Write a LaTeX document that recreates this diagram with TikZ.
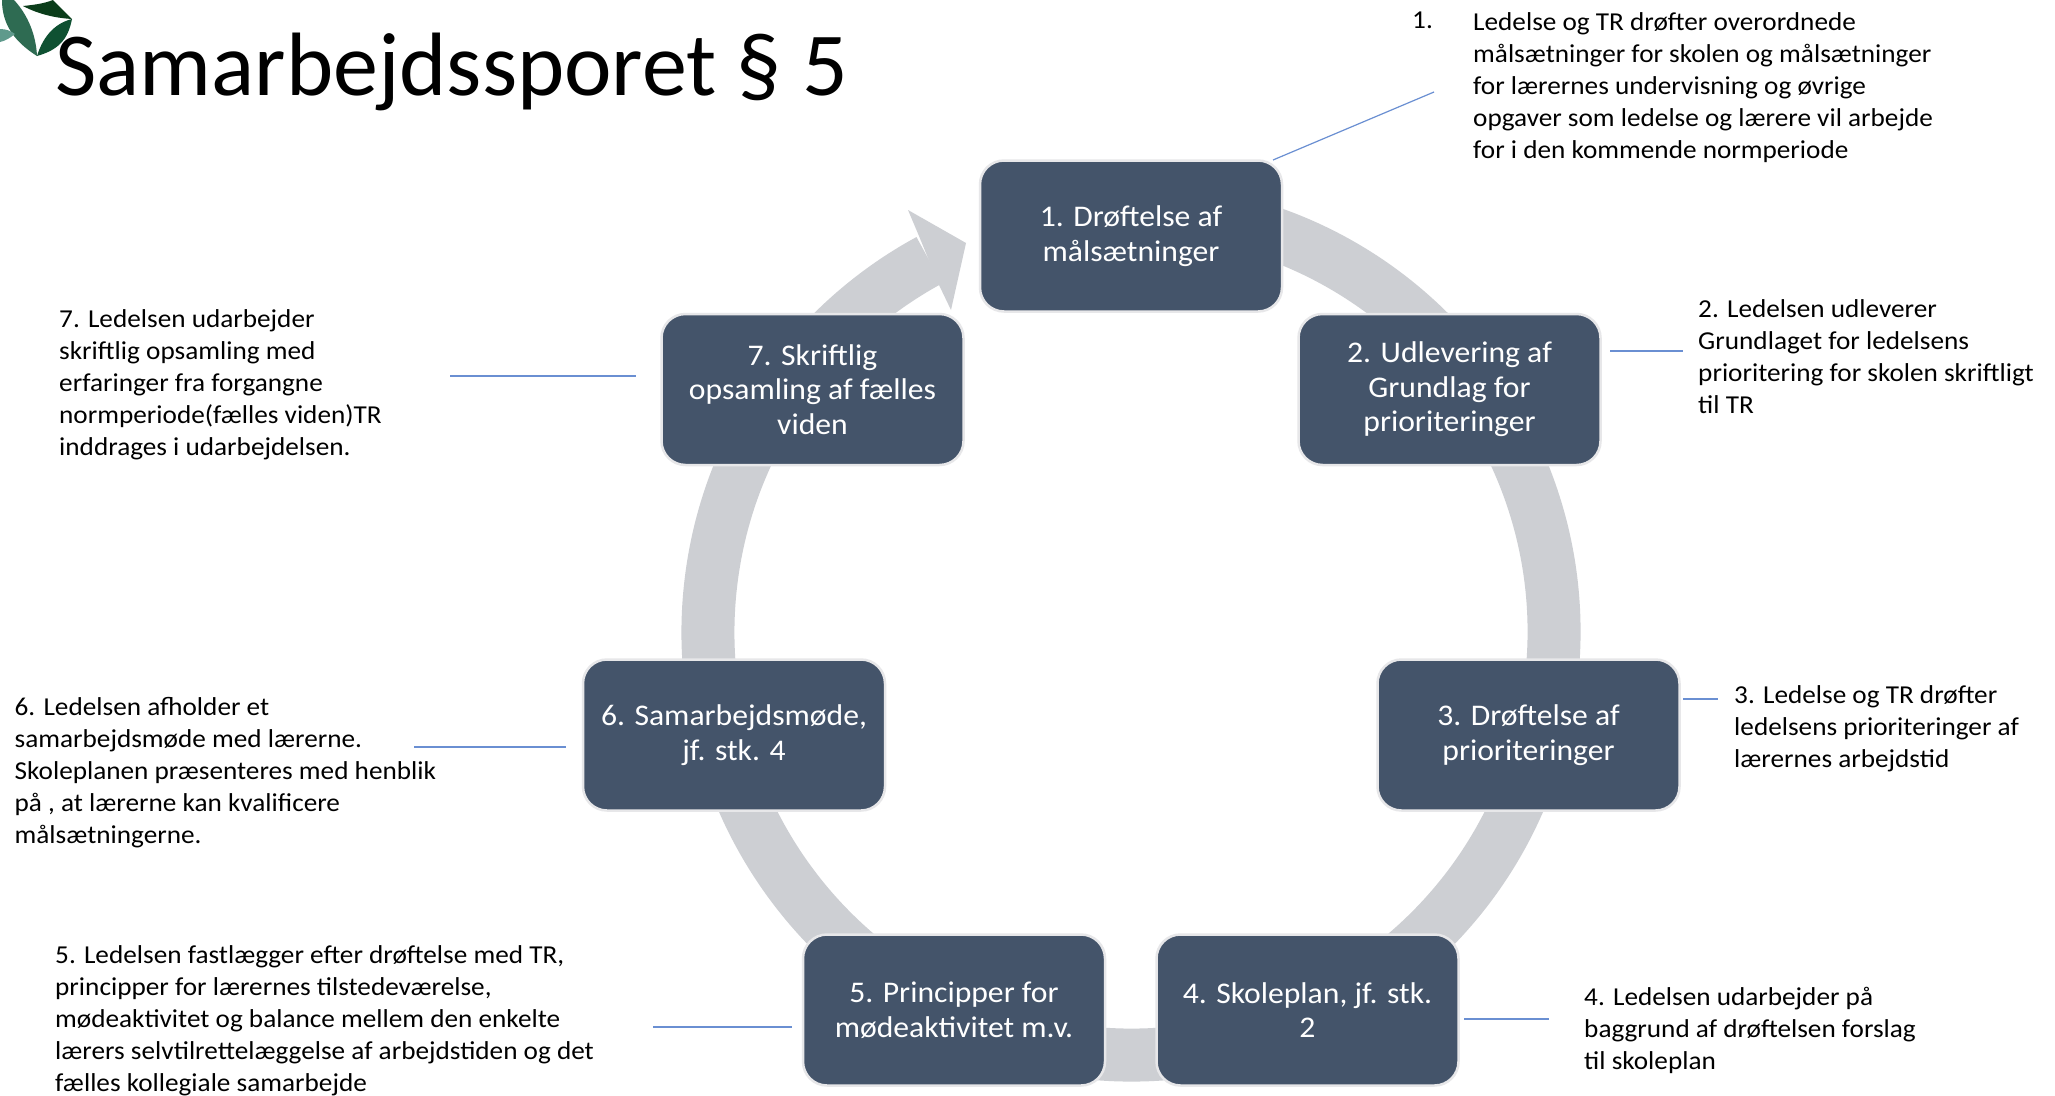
\documentclass[tikz,border=0pt]{standalone}
\usepackage{fontspec}
\setmainfont{Carlito}
\newfontfamily\widefont[FakeStretch=1.055]{Carlito}
\definecolor{boxfill}{HTML}{44546A}
\definecolor{boxedge}{HTML}{E7E7E9}
\definecolor{ringgrey}{HTML}{CDCFD3}
\definecolor{leaderblue}{HTML}{6A8FD2}
\definecolor{leafa}{HTML}{2E6B52}
\definecolor{leafb}{HTML}{0B3D1A}
\definecolor{leafc}{HTML}{0F5132}
\definecolor{leafd}{HTML}{5F9A8C}
\tikzset{
  stage/.style={draw=boxedge,fill=boxfill,line width=2.5pt,rounded corners=24pt,minimum width=302pt,minimum height=151pt,
    inner sep=0pt,text=white,align=center,font=\widefont\fontsize{30}{34.6}\selectfont},
  note/.style={anchor=north west,inner sep=0pt,align=left,text=black,font=\widefont\fontsize{25.8}{32}\selectfont},
  leader/.style={draw=leaderblue,line width=1.2pt},
  ring/.style={draw=ringgrey,line width=53pt}
}
\begin{document}
\begin{tikzpicture}[x=1pt,y=1pt]
\useasboundingbox (0,-1095) rectangle (2055,0);
\fill[white] (0,-1095) rectangle (2055,0);
\clip (0,-1095) rectangle (2055,0);
% logo
\fill[leafa] (2,0) .. controls (2,-25) and (15,-42) .. (37,-56) .. controls (36,-35) and (28,-15) .. (14,0) -- cycle;
\fill[leafb] (23,-6) .. controls (32,-5) and (43,-4) .. (53,0) -- (72,-19) .. controls (55,-18) and (38,-14) .. (23,-6) -- cycle;
\fill[leafc] (72,-19) .. controls (52,-24) and (42,-40) .. (37,-56) .. controls (58,-50) and (68,-40) .. (72,-19) -- cycle;
\fill[leafd] (0,-29) .. controls (6,-29) and (11,-31) .. (15,-34) .. controls (10,-38) and (5,-41) .. (0,-42) -- cycle;
% ring
\coordinate (ringc) at (1131,-632);
\draw[ring] (ringc) ++(80:423) arc (80:-241.5:423);
\coordinate (hb) at (919,-236);
\coordinate (hc) at (908,-210);
\coordinate (ht) at (966,-243);
\coordinate (hd) at (951,-310);
\coordinate (he) at (939,-285);
\fill[ringgrey] (hb) -- (hc) -- (ht) -- (hd) -- (he) -- cycle;
% stages
\node[stage] (s1) at (1131,-236) {1. Drøftelse af\\målsætninger};
\node[stage] (s2) at (1449.5,-389.5) {2. Udlevering af\\Grundlag for\\prioriteringer};
\node[stage] (s3) at (1528.5,-735) {3. Drøftelse af\\prioriteringer};
\node[stage] (s4) at (1307.5,-1010) {4. Skoleplan, jf. stk.\\2};
\node[stage] (s5) at (954,-1010) {5. Principper for\\mødeaktivitet m.v.};
\node[stage] (s6) at (734,-735) {6. Samarbejdsmøde,\\jf. stk. 4};
\node[stage] (s7) at (812.5,-389.5) {7. Skriftlig\\opsamling af fælles\\viden};
% title
\node[anchor=base west,inner sep=0pt,font=\fontsize{90}{100}\selectfont] (title) at (55,-95) {Samarbejdssporet § 5};
% notes
\node[note] (n1num) at (1412,-12) {1.};
\node[note] (n1) at (1473,-12) {Ledelse og TR drøfter overordnede\\målsætninger for skolen og målsætninger\\for lærernes undervisning og øvrige\\opgaver som ledelse og lærere vil arbejde\\for i den kommende normperiode};
\node[note] (n2) at (1698,-299) {2. Ledelsen udleverer\\Grundlaget for ledelsens\\prioritering for skolen skriftligt\\til TR};
\node[note] (n3) at (1734,-685) {3. Ledelse og TR drøfter\\ledelsens prioriteringer af\\lærernes arbejdstid};
\node[note] (n4) at (1584,-987) {4. Ledelsen udarbejder på\\baggrund af drøftelsen forslag\\til skoleplan};
\node[note] (n5) at (55,-945) {5. Ledelsen fastlægger efter drøftelse med TR,\\principper for lærernes tilstedeværelse,\\mødeaktivitet og balance mellem den enkelte\\lærers selvtilrettelæggelse af arbejdstiden og det\\fælles kollegiale samarbejde};
\node[note] (n6) at (14.5,-697) {6. Ledelsen afholder et\\samarbejdsmøde med lærerne.\\Skoleplanen præsenteres med henblik\\på , at lærerne kan kvalificere\\målsætningerne.};
\node[note] (n7) at (59,-309) {7. Ledelsen udarbejder\\skriftlig opsamling med\\erfaringer fra forgangne\\normperiode(fælles viden)TR\\inddrages i udarbejdelsen.};
% leaders
\coordinate (l1a) at (1273,-160); \coordinate (l1b) at (1434,-92);
\coordinate (l2a) at (1610,-351); \coordinate (l2b) at (1683,-351);
\coordinate (l3a) at (1683,-699); \coordinate (l3b) at (1718,-699);
\coordinate (l4a) at (1464,-1019); \coordinate (l4b) at (1549,-1019);
\coordinate (l5a) at (653,-1027); \coordinate (l5b) at (792,-1027);
\coordinate (l6a) at (414,-747); \coordinate (l6b) at (566,-747);
\coordinate (l7a) at (450,-376); \coordinate (l7b) at (636,-376);
\foreach \a/\b in {l1a/l1b,l2a/l2b,l3a/l3b,l4a/l4b,l5a/l5b,l6a/l6b,l7a/l7b} \draw[leader] (\a) -- (\b);
\end{tikzpicture}
\end{document}
